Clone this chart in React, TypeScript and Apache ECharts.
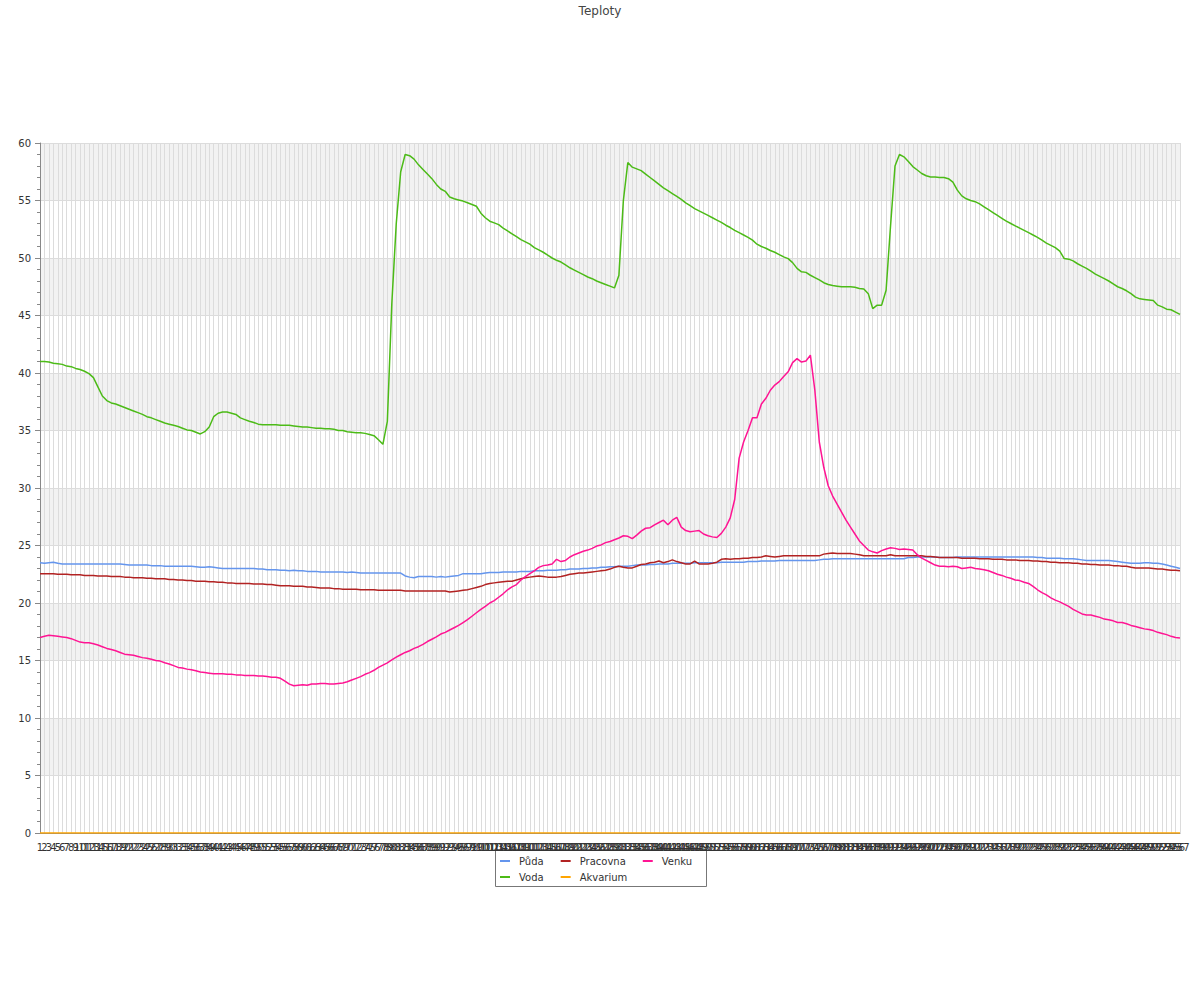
import React, { useEffect, useRef } from "react";
import * as echarts from "echarts";

const categories: string[] = Array.from({ length: 257 }, (_, i) => String(i + 1));

const seriesNames = ["Půda", "Pracovna", "Venku", "Voda", "Akvarium"];
const seriesColors = ["#6495ED", "#B22222", "#FF1493", "#4CBB17", "#FFA500"];

const puda = [
  23.5, 23.45, 23.5, 23.55, 23.45, 23.4, 23.4, 23.4, 23.4, 23.4,
  23.4, 23.4, 23.4, 23.4, 23.4, 23.4, 23.4, 23.4, 23.4, 23.35,
  23.3, 23.3, 23.3, 23.3, 23.3, 23.25, 23.25, 23.25, 23.2, 23.2,
  23.2, 23.2, 23.2, 23.2, 23.2, 23.15, 23.1, 23.1, 23.15, 23.1,
  23.05, 23.0, 23.0, 23.0, 23.0, 23.0, 23.0, 23.0, 23.0, 22.95,
  22.95, 22.9, 22.9, 22.9, 22.85, 22.85, 22.8, 22.85, 22.8, 22.8,
  22.75, 22.75, 22.75, 22.7, 22.7, 22.7, 22.7, 22.7, 22.7, 22.65,
  22.7, 22.65, 22.6, 22.6, 22.6, 22.6, 22.6, 22.6, 22.6, 22.6,
  22.6, 22.6, 22.35, 22.25, 22.2, 22.3, 22.3, 22.3, 22.3, 22.25,
  22.3, 22.25, 22.3, 22.35, 22.4, 22.55, 22.55, 22.55, 22.55, 22.55,
  22.6, 22.65, 22.65, 22.65, 22.7, 22.7, 22.7, 22.7, 22.75, 22.75,
  22.75, 22.8, 22.8, 22.8, 22.85, 22.85, 22.85, 22.9, 22.9, 22.95,
  22.95, 22.95, 23.0, 23.0, 23.05, 23.05, 23.1, 23.1, 23.15, 23.15,
  23.2, 23.2, 23.2, 23.25, 23.3, 23.3, 23.3, 23.35, 23.35, 23.4,
  23.4, 23.4, 23.45, 23.45, 23.45, 23.45, 23.45, 23.5, 23.5, 23.5,
  23.5, 23.5, 23.5, 23.55, 23.55, 23.55, 23.55, 23.55, 23.55, 23.6,
  23.6, 23.6, 23.65, 23.65, 23.65, 23.65, 23.7, 23.7, 23.7, 23.7,
  23.7, 23.7, 23.7, 23.7, 23.7, 23.75, 23.8, 23.8, 23.85, 23.85,
  23.85, 23.85, 23.85, 23.85, 23.85, 23.85, 23.85, 23.85, 23.85, 23.85,
  23.85, 23.85, 23.85, 23.85, 23.85, 23.95, 23.95, 24.0, 24.0, 24.0,
  24.0, 24.0, 23.95, 23.95, 23.95, 23.95, 24.0, 24.0, 24.0, 24.0,
  24.0, 24.0, 24.0, 24.0, 24.0, 24.0, 24.0, 24.0, 24.0, 24.0,
  24.0, 24.0, 24.0, 24.0, 23.95, 23.95, 23.9, 23.9, 23.9, 23.9,
  23.85, 23.85, 23.85, 23.8, 23.75, 23.7, 23.7, 23.7, 23.7, 23.7,
  23.7, 23.65, 23.6, 23.55, 23.5, 23.45, 23.45, 23.45, 23.5, 23.5,
  23.45, 23.45, 23.4, 23.3, 23.2, 23.1, 23.0,
];

const pracovna = [
  22.55, 22.55, 22.55, 22.55, 22.5, 22.5, 22.5, 22.45, 22.45, 22.45,
  22.4, 22.4, 22.4, 22.35, 22.35, 22.35, 22.3, 22.3, 22.3, 22.25,
  22.25, 22.2, 22.2, 22.2, 22.15, 22.15, 22.1, 22.1, 22.1, 22.05,
  22.05, 22.0, 22.0, 21.95, 21.95, 21.9, 21.9, 21.9, 21.85, 21.85,
  21.8, 21.8, 21.75, 21.75, 21.7, 21.7, 21.7, 21.7, 21.65, 21.65,
  21.65, 21.6, 21.6, 21.55, 21.5, 21.5, 21.5, 21.45, 21.45, 21.45,
  21.4, 21.4, 21.35, 21.3, 21.3, 21.3, 21.25, 21.25, 21.2, 21.2,
  21.2, 21.2, 21.15, 21.15, 21.15, 21.15, 21.1, 21.1, 21.1, 21.1,
  21.1, 21.1, 21.05, 21.05, 21.05, 21.05, 21.05, 21.05, 21.05, 21.05,
  21.05, 21.05, 20.95, 21.0, 21.05, 21.1, 21.15, 21.25, 21.35, 21.45,
  21.6, 21.7, 21.75, 21.8, 21.85, 21.9, 21.9, 22.0, 22.1, 22.2,
  22.25, 22.3, 22.35, 22.3, 22.25, 22.25, 22.25, 22.3, 22.4, 22.5,
  22.55, 22.6, 22.6, 22.65, 22.7, 22.75, 22.8, 22.85, 22.95, 23.1,
  23.2, 23.1, 23.05, 23.05, 23.2, 23.35, 23.4, 23.5, 23.55, 23.65,
  23.5, 23.6, 23.75, 23.6, 23.5, 23.4, 23.4, 23.65, 23.4, 23.4,
  23.4, 23.45, 23.55, 23.8, 23.85, 23.8, 23.85, 23.85, 23.9, 23.9,
  23.95, 23.95, 24.0, 24.1, 24.05, 24.0, 24.05, 24.1, 24.1, 24.1,
  24.1, 24.1, 24.1, 24.1, 24.1, 24.1, 24.25, 24.3, 24.35, 24.3,
  24.3, 24.3, 24.3, 24.25, 24.2, 24.1, 24.1, 24.1, 24.1, 24.1,
  24.1, 24.2, 24.1, 24.1, 24.1, 24.1, 24.1, 24.1, 24.1, 24.05,
  24.05, 24.0, 23.95, 23.95, 23.95, 23.95, 23.95, 23.9, 23.9, 23.9,
  23.9, 23.85, 23.85, 23.85, 23.8, 23.8, 23.8, 23.75, 23.75, 23.75,
  23.7, 23.7, 23.7, 23.65, 23.65, 23.6, 23.6, 23.55, 23.55, 23.5,
  23.5, 23.5, 23.45, 23.45, 23.4, 23.4, 23.35, 23.35, 23.3, 23.3,
  23.3, 23.25, 23.25, 23.2, 23.2, 23.1, 23.05, 23.05, 23.05, 23.05,
  23.0, 22.95, 22.95, 22.9, 22.85, 22.85, 22.8,
];

const venku = [
  17.0, 17.1, 17.2, 17.15, 17.1, 17.05, 17.0, 16.9, 16.75, 16.6,
  16.55, 16.55, 16.45, 16.35, 16.2, 16.05, 15.95, 15.85, 15.7, 15.55,
  15.5, 15.45, 15.35, 15.25, 15.2, 15.1, 15.0, 14.95, 14.8, 14.7,
  14.55, 14.4, 14.35, 14.25, 14.2, 14.1, 14.0, 13.95, 13.9, 13.85,
  13.85, 13.85, 13.8, 13.8, 13.75, 13.75, 13.7, 13.7, 13.7, 13.65,
  13.65, 13.6, 13.55, 13.55, 13.45, 13.2, 12.95, 12.8, 12.85, 12.9,
  12.85, 12.95, 12.95, 13.0, 13.0, 12.95, 12.95, 13.0, 13.05, 13.15,
  13.3, 13.45, 13.6, 13.8, 13.95, 14.15, 14.4, 14.6, 14.8, 15.05,
  15.3, 15.5, 15.7, 15.85, 16.05, 16.2, 16.4, 16.65, 16.85, 17.05,
  17.3, 17.45, 17.65, 17.85, 18.05, 18.3, 18.55, 18.85, 19.15, 19.45,
  19.7, 20.0, 20.2, 20.5, 20.8, 21.15, 21.4, 21.6, 22.0, 22.3,
  22.55, 22.8, 23.1, 23.25, 23.3, 23.4, 23.8, 23.6, 23.7, 24.0,
  24.2, 24.35, 24.5, 24.6, 24.75, 24.95, 25.05, 25.25, 25.35, 25.5,
  25.65, 25.85, 25.8, 25.6, 25.9, 26.25, 26.5, 26.55, 26.8, 27.0,
  27.2, 26.8, 27.2, 27.45, 26.6, 26.3, 26.2, 26.25, 26.3, 26.0,
  25.85, 25.75, 25.7, 26.05, 26.6, 27.4, 29.0, 32.6, 34.0, 35.0,
  36.1, 36.1, 37.3, 37.8, 38.5, 38.95, 39.25, 39.7, 40.1, 40.9,
  41.25, 40.95, 41.05, 41.55, 38.5, 34.0, 31.8, 30.2, 29.3, 28.6,
  27.9, 27.2, 26.6, 26.0, 25.4, 25.0, 24.6, 24.45, 24.35, 24.55,
  24.7, 24.8, 24.75, 24.65, 24.7, 24.65, 24.6, 24.2, 23.9, 23.7,
  23.5, 23.3, 23.2, 23.2, 23.15, 23.2, 23.15, 23.0, 23.05, 23.1,
  23.0, 22.95, 22.9, 22.8, 22.65, 22.5, 22.4, 22.25, 22.15, 22.0,
  21.95, 21.8, 21.7, 21.45, 21.15, 20.9, 20.7, 20.45, 20.25, 20.1,
  19.9, 19.7, 19.45, 19.25, 19.05, 18.95, 18.95, 18.85, 18.75, 18.6,
  18.55, 18.45, 18.3, 18.3, 18.2, 18.05, 17.95, 17.85, 17.75, 17.7,
  17.6, 17.45, 17.35, 17.25, 17.1, 17.0, 16.95,
];

const voda = [
  41.0, 41.0, 40.95, 40.85, 40.8, 40.75, 40.6, 40.55, 40.4, 40.3,
  40.15, 39.95, 39.6, 38.8, 38.0, 37.6, 37.4, 37.3, 37.15, 37.0,
  36.85, 36.7, 36.55, 36.4, 36.2, 36.1, 35.95, 35.8, 35.65, 35.55,
  35.45, 35.35, 35.2, 35.05, 35.0, 34.85, 34.7, 34.9, 35.3, 36.2,
  36.5, 36.6, 36.6, 36.5, 36.4, 36.1, 35.95, 35.8, 35.7, 35.55,
  35.5, 35.5, 35.5, 35.5, 35.45, 35.45, 35.45, 35.4, 35.35, 35.3,
  35.3, 35.25, 35.2, 35.2, 35.15, 35.15, 35.1, 35.0, 35.0, 34.9,
  34.85, 34.8, 34.8, 34.75, 34.65, 34.55, 34.2, 33.8, 35.8, 46.0,
  53.0, 57.5, 59.0, 58.9, 58.6, 58.1, 57.7, 57.3, 56.9, 56.4,
  56.0, 55.8, 55.3, 55.15, 55.05, 54.95, 54.8, 54.65, 54.5, 53.9,
  53.5, 53.2, 53.05, 52.9, 52.6, 52.35, 52.1, 51.85, 51.6, 51.4,
  51.2, 50.9, 50.7, 50.5, 50.25, 50.0, 49.8, 49.65, 49.4, 49.15,
  48.95, 48.75, 48.55, 48.35, 48.2, 48.0, 47.85, 47.7, 47.55, 47.4,
  48.5, 55.0, 58.3, 57.9, 57.75, 57.6, 57.3, 57.0, 56.7, 56.4,
  56.1, 55.85, 55.6, 55.35, 55.1, 54.8, 54.55, 54.3, 54.1, 53.9,
  53.7, 53.5, 53.3, 53.1, 52.85, 52.65, 52.4, 52.2, 52.0, 51.8,
  51.55, 51.2, 51.0, 50.85, 50.65, 50.5, 50.3, 50.1, 49.95, 49.6,
  49.1, 48.8, 48.75, 48.5, 48.3, 48.1, 47.85, 47.7, 47.6, 47.55,
  47.5, 47.5, 47.5, 47.45, 47.35, 47.3, 46.9, 45.6, 45.9, 45.9,
  47.2, 52.8, 58.0, 59.0, 58.8, 58.4, 57.95, 57.65, 57.35, 57.15,
  57.05, 57.05, 57.0, 57.0, 56.9, 56.6, 55.9, 55.4, 55.15, 55.0,
  54.9, 54.7, 54.45, 54.2, 53.95, 53.7, 53.45, 53.2, 53.0, 52.8,
  52.6, 52.4, 52.2, 52.0, 51.8, 51.55, 51.3, 51.1, 50.9, 50.6,
  49.95, 49.9, 49.75, 49.5, 49.3, 49.1, 48.85, 48.6, 48.4, 48.2,
  48.0, 47.75, 47.5, 47.35, 47.15, 46.9, 46.6, 46.45, 46.4, 46.35,
  46.3, 45.9, 45.75, 45.55, 45.5, 45.3, 45.1,
];

const akvarium = [
  0, 0, 0, 0, 0, 0, 0, 0, 0, 0,
  0, 0, 0, 0, 0, 0, 0, 0, 0, 0,
  0, 0, 0, 0, 0, 0, 0, 0, 0, 0,
  0, 0, 0, 0, 0, 0, 0, 0, 0, 0,
  0, 0, 0, 0, 0, 0, 0, 0, 0, 0,
  0, 0, 0, 0, 0, 0, 0, 0, 0, 0,
  0, 0, 0, 0, 0, 0, 0, 0, 0, 0,
  0, 0, 0, 0, 0, 0, 0, 0, 0, 0,
  0, 0, 0, 0, 0, 0, 0, 0, 0, 0,
  0, 0, 0, 0, 0, 0, 0, 0, 0, 0,
  0, 0, 0, 0, 0, 0, 0, 0, 0, 0,
  0, 0, 0, 0, 0, 0, 0, 0, 0, 0,
  0, 0, 0, 0, 0, 0, 0, 0, 0, 0,
  0, 0, 0, 0, 0, 0, 0, 0, 0, 0,
  0, 0, 0, 0, 0, 0, 0, 0, 0, 0,
  0, 0, 0, 0, 0, 0, 0, 0, 0, 0,
  0, 0, 0, 0, 0, 0, 0, 0, 0, 0,
  0, 0, 0, 0, 0, 0, 0, 0, 0, 0,
  0, 0, 0, 0, 0, 0, 0, 0, 0, 0,
  0, 0, 0, 0, 0, 0, 0, 0, 0, 0,
  0, 0, 0, 0, 0, 0, 0, 0, 0, 0,
  0, 0, 0, 0, 0, 0, 0, 0, 0, 0,
  0, 0, 0, 0, 0, 0, 0, 0, 0, 0,
  0, 0, 0, 0, 0, 0, 0, 0, 0, 0,
  0, 0, 0, 0, 0, 0, 0, 0, 0, 0,
  0, 0, 0, 0, 0, 0, 0,
];

const seriesData = [puda, pracovna, venku, voda, akvarium];

const FONT = "DejaVu Sans";

export default function App() {
  const ref = useRef<HTMLDivElement>(null);

  useEffect(() => {
    if (!ref.current) return;
    const chart = echarts.init(ref.current, null, { renderer: "svg" });
    const legendText = { fontSize: 10, color: "#333", fontFamily: FONT, padding: [0, 0, 0, 4] };
    chart.setOption({
      animation: false,
      textStyle: { fontFamily: FONT },
      title: {
        text: "Teploty",
        left: "center",
        top: 0,
        textStyle: { fontSize: 12, fontWeight: "normal", color: "#444", fontFamily: FONT },
      },
      graphic: [
        {
          type: "rect",
          z: 0,
          shape: { x: 495.5, y: 849.5, width: 211, height: 37 },
          style: { fill: "#fff", stroke: "#777", lineWidth: 1 },
        },
      ],
      legend: [
        {
          data: seriesNames.slice(0, 3),
          left: 500,
          top: 856,
          padding: 0,
          itemGap: 17,
          itemWidth: 10,
          itemHeight: 2,
          icon: "rect",
          textStyle: legendText,
        },
        {
          data: seriesNames.slice(3),
          left: 500,
          top: 872,
          padding: 0,
          itemGap: 17,
          itemWidth: 10,
          itemHeight: 2,
          icon: "rect",
          textStyle: legendText,
        },
      ],
      grid: { left: 40, right: 20, top: 143, bottom: 167, containLabel: false },
      xAxis: {
        type: "category",
        data: categories,
        boundaryGap: false,
        axisLine: { show: true, lineStyle: { color: "#888" } },
        axisTick: { show: false },
        axisLabel: { interval: 0, fontSize: 10, color: "#333", margin: 9, fontFamily: FONT },
        splitLine: { show: true, interval: 0, lineStyle: { color: "#dcdcdc", width: 1 } },
      },
      yAxis: {
        type: "value",
        min: 0,
        max: 60,
        interval: 5,
        axisLine: { show: true, lineStyle: { color: "#888" } },
        axisTick: { show: true, length: 5, lineStyle: { color: "#888" } },
        minorTick: { show: true, splitNumber: 5, length: 3, lineStyle: { color: "#888" } },
        axisLabel: { fontSize: 10, color: "#333", margin: 9, fontFamily: FONT },
        splitLine: { show: true, lineStyle: { color: "#dcdcdc" } },
        splitArea: { show: true, areaStyle: { color: ["rgba(255,255,255,0)", "#f2f2f2"] } },
      },
      series: seriesNames.map((name, k) => ({
        name,
        type: "line",
        data: seriesData[k],
        color: seriesColors[k],
        showSymbol: false,
        symbol: "none",
        lineStyle: { width: 1.5, color: seriesColors[k] },
        itemStyle: { color: seriesColors[k] },
      })),
    });
    return () => chart.dispose();
  }, []);

  return (
    <div
      ref={ref}
      style={{ position: "absolute", left: 0, top: 0, width: 1200, height: 1000 }}
    />
  );
}
